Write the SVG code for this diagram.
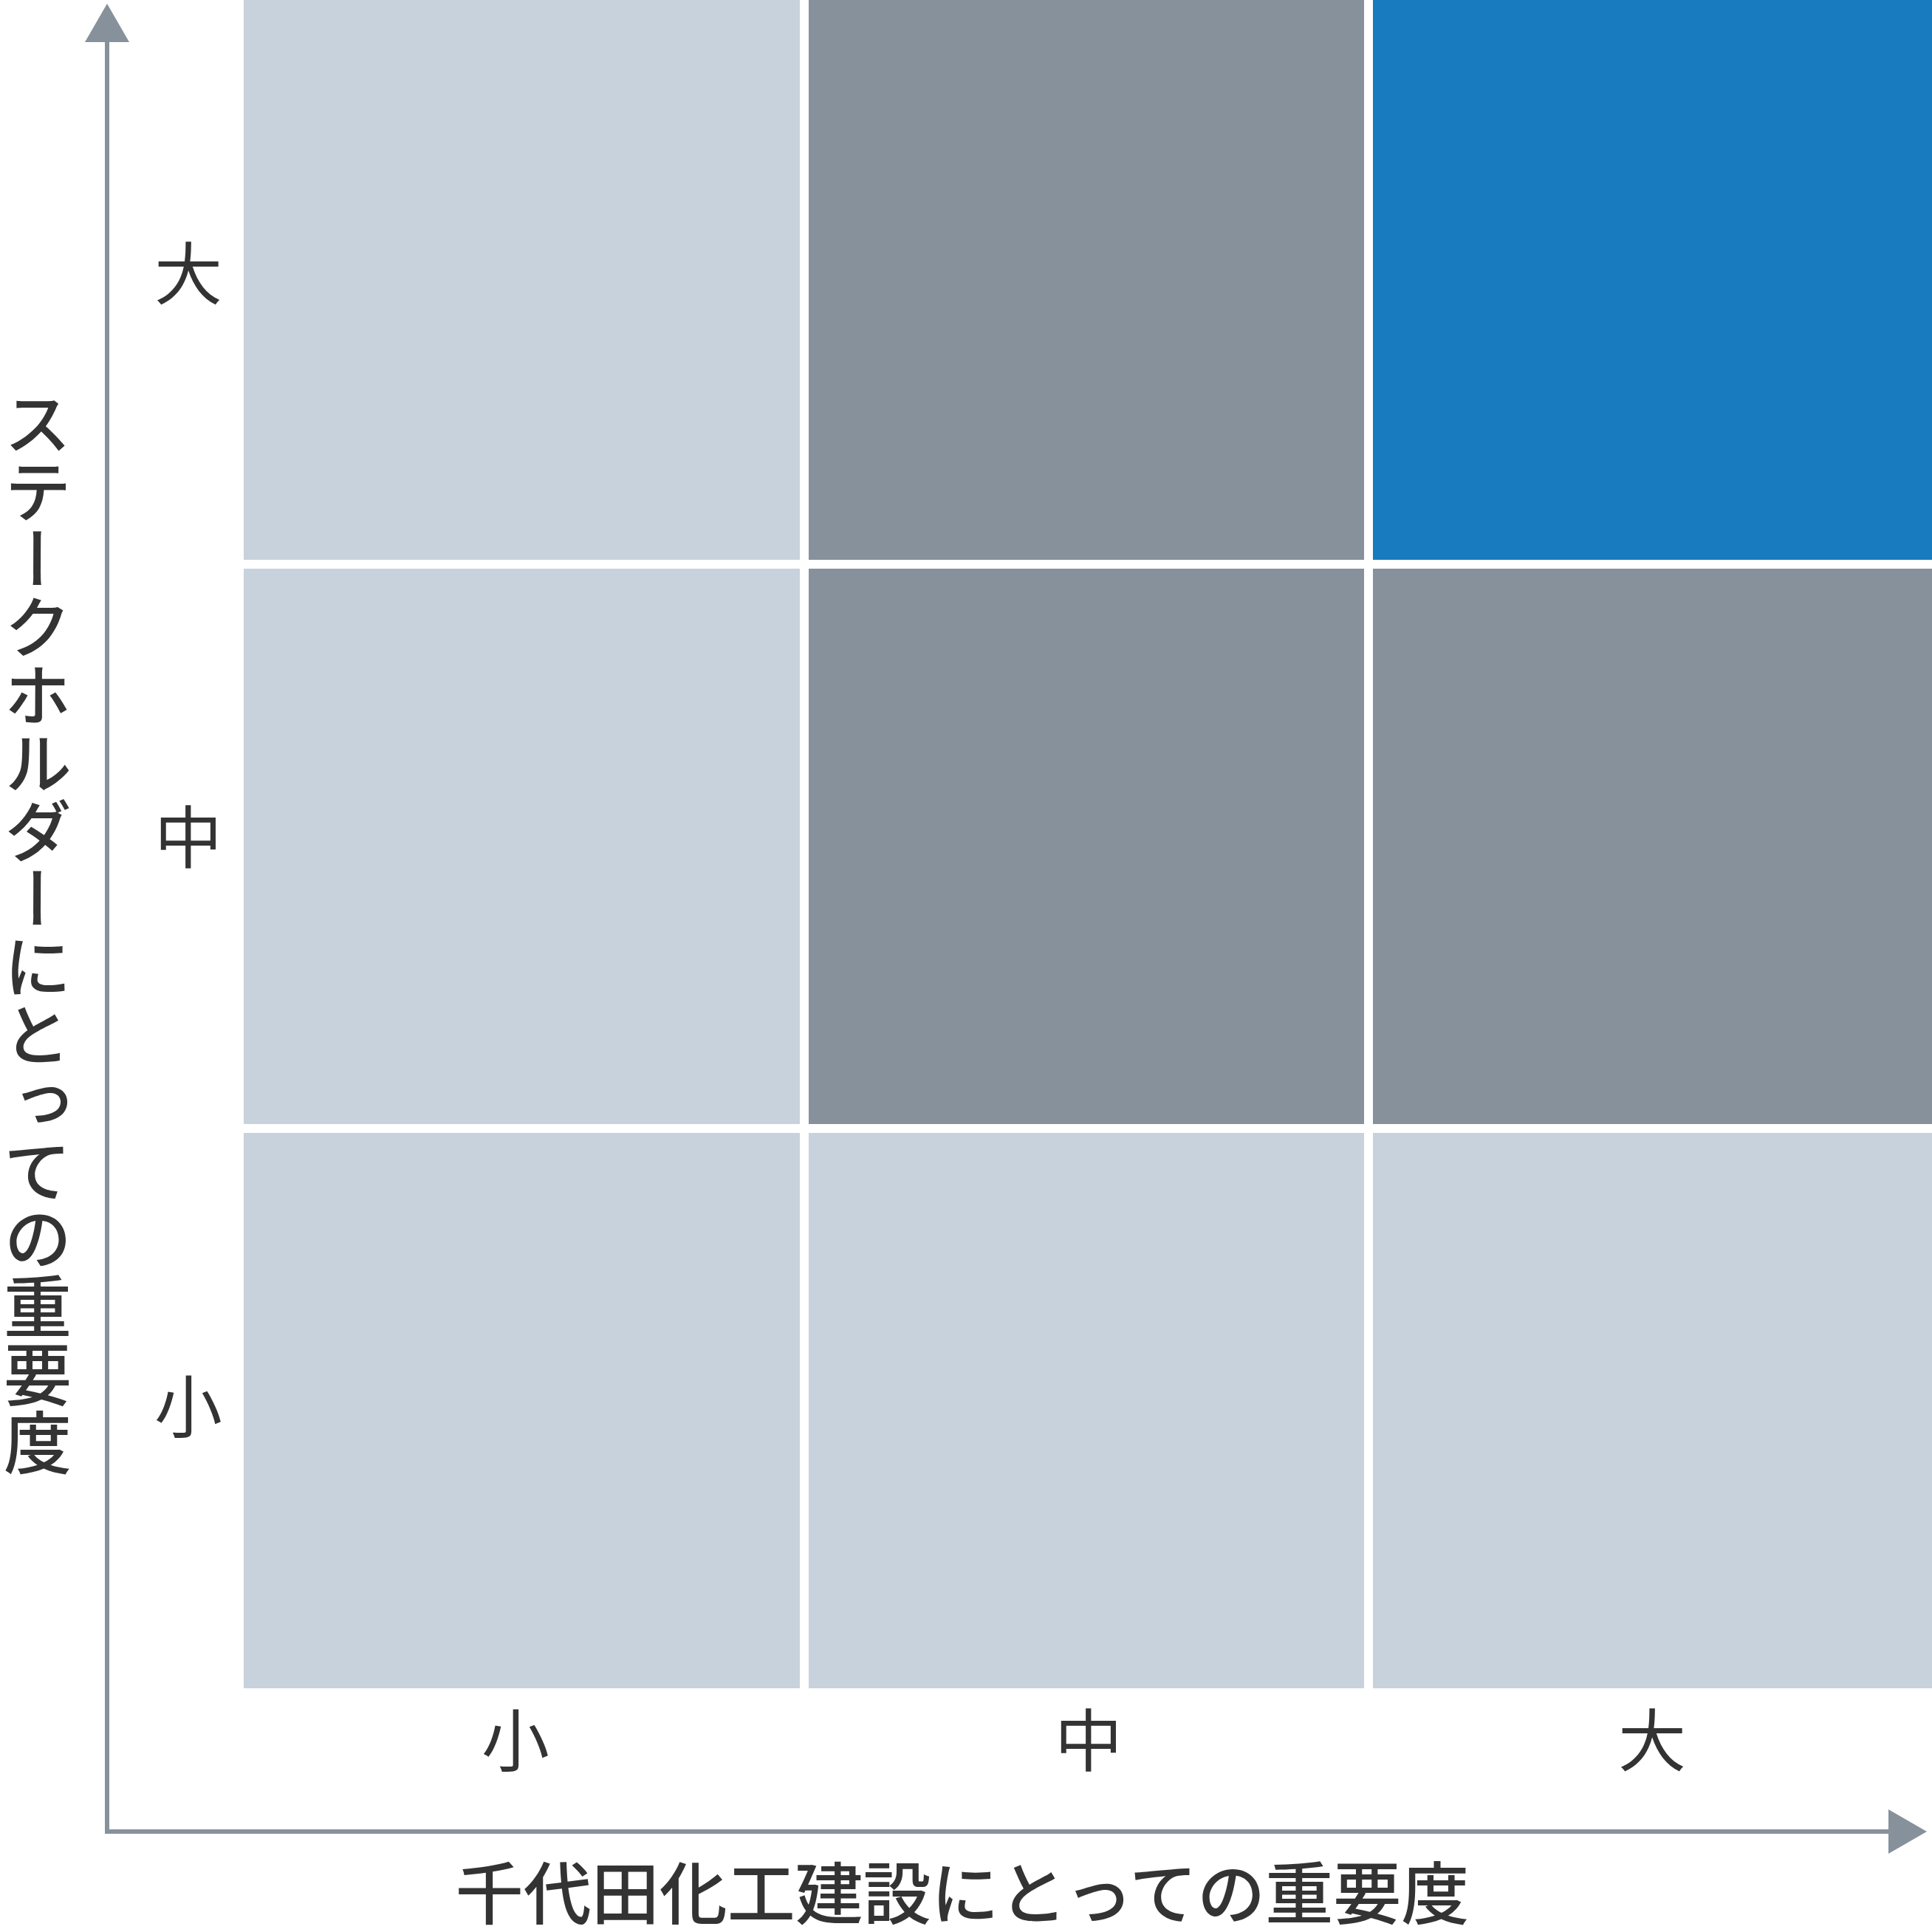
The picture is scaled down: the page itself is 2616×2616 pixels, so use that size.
<svg xmlns="http://www.w3.org/2000/svg" width="2616" height="2616" viewBox="0 0 2616 2616">
<style>
.light{fill:#c8d2dc}
.dark{fill:#87919b}
.blue{fill:#187bc0}
.axis{stroke:#87919b;stroke-width:6;fill:none}
.head{fill:#87919b}
.t{font-family:"Noto Sans CJK JP","Noto Sans CJK SC",sans-serif;font-size:92px;fill:#333333}
.title{font-weight:500}
</style>
<rect width="2616" height="2616" fill="#ffffff"/>
<g id="cells">
<rect id="c-small-large" class="light" x="330" y="0" width="753" height="758"/>
<rect id="c-mid-large" class="dark" x="1095" y="0" width="752" height="758"/>
<rect id="c-large-large" class="blue" x="1859" y="0" width="757" height="758"/>
<rect id="c-small-mid" class="light" x="330" y="770" width="753" height="752"/>
<rect id="c-mid-mid" class="dark" x="1095" y="770" width="752" height="752"/>
<rect id="c-large-mid" class="dark" x="1859" y="770" width="757" height="752"/>
<rect id="c-small-small" class="light" x="330" y="1534" width="753" height="752"/>
<rect id="c-mid-small" class="light" x="1095" y="1534" width="752" height="752"/>
<rect id="c-large-small" class="light" x="1859" y="1534" width="757" height="752"/>
</g>
<g id="axes">
<line class="axis" x1="145" y1="55" x2="145" y2="2483"/>
<line class="axis" x1="142" y1="2480" x2="2559" y2="2480"/>
<polygon class="head" points="115,57 175,57 145,5"/>
<polygon class="head" points="2557,2450 2557,2510 2609,2480"/>
</g>
<g id="labels">
<text class="t" x="255" y="405" text-anchor="middle">大</text>
<text class="t" x="255" y="1168" text-anchor="middle">中</text>
<text class="t" x="255" y="1939" text-anchor="middle">小</text>
<text class="t" x="698" y="2391" text-anchor="middle">小</text>
<text class="t" x="1474" y="2391" text-anchor="middle">中</text>
<text class="t" x="2237" y="2391" text-anchor="middle">大</text>
<text id="x-title" class="t title" x="1303" y="2598" text-anchor="middle">千代田化工建設にとっての重要度</text>
<text id="y-title" class="t title" x="51" y="1263" text-anchor="middle" style="writing-mode:vertical-rl">ステークホルダーにとっての重要度</text>
</g>
</svg>
